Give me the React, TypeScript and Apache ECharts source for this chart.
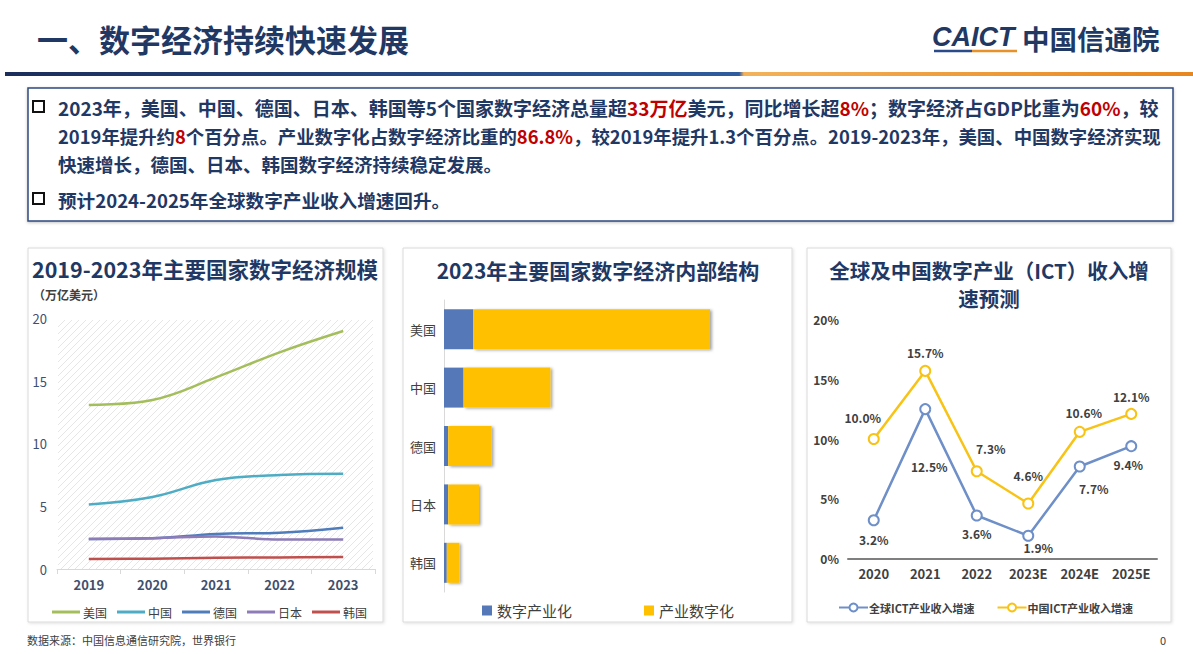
import React, { useEffect, useRef } from "react";
import * as echarts from "echarts";

// ---------- data ----------
const years = ["2019", "2020", "2021", "2022", "2023"];
const usScale = [13.1, 13.5, 15.3, 17.3, 19.0];
const cnScale = [5.15, 5.75, 7.1, 7.5, 7.6];
const deScale = [2.4, 2.45, 2.8, 2.9, 3.3];
const jpScale = [2.4, 2.45, 2.6, 2.35, 2.35];
const krScale = [0.8, 0.82, 0.9, 0.92, 0.95];
const scaleNames = ["美国", "中国", "德国", "日本", "韩国"];

const countries = ["美国", "中国", "德国", "日本", "韩国"];
const digitalIndustry = [2.1, 1.4, 0.3, 0.3, 0.2];
const industryDigital = [16.9, 6.2, 3.1, 2.2, 0.9];

const ictYears = ["2020", "2021", "2022", "2023E", "2024E", "2025E"];
const globalIct = [3.2, 12.5, 3.6, 1.9, 7.7, 9.4];
const chinaIct = [10.0, 15.7, 7.3, 4.6, 10.6, 12.1];

// label nudges (layout only)
const chinaLabelOffset = [[-11, -5], [0, -1], [14, -6], [0, -11], [4, -2], [0, 0]];
const globalLabelOffset = [[0, 2], [4, 40], [0, 1], [10, -5], [14, 5], [-3, 1]];

const FONT = '"Noto Sans CJK SC", "Noto Sans", sans-serif';
const NAVY = "#1F3864";

function hatch(x0: number, y0: number, x1: number, y1: number, step: number) {
  const out: any[] = [];
  for (let c = x0 + y0 + step; c < x1 + y1; c += step) {
    const ya = Math.min(y1, c - x0);
    const xa = c - ya;
    const yb = Math.max(y0, c - x1);
    const xb = c - yb;
    out.push({
      type: "line",
      silent: true,
      z: 0,
      shape: { x1: xa, y1: ya, x2: xb, y2: yb },
      style: { stroke: "#E6E6E6", lineWidth: 1 },
    });
  }
  return out;
}

function txt(x: number, y: number, text: string, fontSize: number, extra: any = {}) {
  return {
    type: "text",
    x,
    y,
    z: 10,
    style: {
      text,
      fontSize,
      fontFamily: FONT,
      fontWeight: "bold",
      fill: NAVY,
      verticalAlign: "middle",
      ...extra,
    },
  };
}

const redStyle = (fs: number) => ({ fill: "#C00000", fontSize: fs, fontWeight: "bold", fontFamily: FONT });

const panel = (x: number, y: number, w: number, h: number) => ({
  type: "rect",
  z: 0,
  shape: { x, y, width: w, height: h },
  style: {
    fill: "#fff",
    stroke: "#DADADA",
    lineWidth: 1,
    shadowBlur: 3,
    shadowColor: "rgba(0,0,0,0.12)",
    shadowOffsetX: 1,
    shadowOffsetY: 1,
  },
});

const scaleColors = ["#A5BE5C", "#4EADC4", "#4F7CBB", "#8E7CB8", "#C0504D"];
const scaleData = [usScale, cnScale, deScale, jpScale, krScale];

const option: any = {
  animation: false,
  backgroundColor: "#fff",
  textStyle: { fontFamily: FONT },
  graphic: [
    panel(28, 248, 355, 374),
    panel(403, 248, 389, 374),
    panel(807, 248, 364, 374),
    ...hatch(58, 320, 373, 569, 7),
    txt(37, 38, "一、数字经济持续快速发展", 31),
    txt(932, 37, "CAICT", 27, { fontStyle: "italic", fontFamily: '"Liberation Sans", Arial, sans-serif' }),
    { type: "line", z: 10, shape: { x1: 934, y1: 51, x2: 972, y2: 51 }, style: { stroke: "#2A4A8A", lineWidth: 2.5 } },
    { type: "line", z: 10, shape: { x1: 972, y1: 51, x2: 1017, y2: 51 }, style: { stroke: "#E8912B", lineWidth: 2.5 } },
    txt(1022, 38, "中国信通院", 27.5),
    {
      type: "rect",
      z: 10,
      shape: { x: 5, y: 72, width: 1188, height: 4 },
      style: {
        fill: new echarts.graphic.LinearGradient(0, 0, 1, 0, [
          { offset: 0, color: "#1B2E5C" },
          { offset: 0.618, color: "#2E5C9E" },
          { offset: 0.622, color: "#F3B25A" },
          { offset: 1, color: "#E8861E" },
        ]),
      },
    },
    {
      type: "rect",
      z: 1,
      shape: { x: 28, y: 88, width: 1145, height: 133 },
      style: { fill: "#fff", stroke: "#2F4A80", lineWidth: 1.5, shadowBlur: 3, shadowColor: "rgba(0,0,0,0.25)", shadowOffsetY: 1 },
    },
    { type: "rect", z: 10, shape: { x: 33, y: 101, width: 11, height: 11 }, style: { fill: "none", stroke: "#111", lineWidth: 2 } },
    { type: "rect", z: 10, shape: { x: 33, y: 193, width: 11, height: 11 }, style: { fill: "none", stroke: "#111", lineWidth: 2 } },
    txt(58, 107, "2023年，美国、中国、德国、日本、韩国等5个国家数字经济总量超{r|33万亿}美元，同比增长超{r|8%}；数字经济占GDP比重为{r|60%}，较", 19, { rich: { r: redStyle(19) } }),
    txt(58, 136, "2019年提升约{r|8}个百分点。产业数字化占数字经济比重的{r|86.8%}，较2019年提升1.3个百分点。2019-2023年，美国、中国数字经济实现", 18.4, { rich: { r: redStyle(18.4) } }),
    txt(58, 164, "快速增长，德国、日本、韩国数字经济持续稳定发展。", 18.5),
    txt(58, 199, "预计2024-2025年全球数字产业收入增速回升。", 18.6),
    txt(32, 268, "2019-2023年主要国家数字经济规模", 21.5),
    txt(33, 294, "（万亿美元）", 12, { fill: "#404040" }),
    txt(598, 270, "2023年主要国家数字经济内部结构", 21, { textAlign: "center" }),
    txt(989, 270, "全球及中国数字产业（ICT）收入增", 20.5, { textAlign: "center" }),
    txt(989, 298, "速预测", 20.5, { textAlign: "center" }),
    txt(27, 640, "数据来源：中国信息通信研究院，世界银行", 11, { fontWeight: "normal", fill: "#404040" }),
    txt(1160, 640, "0", 11, { fontWeight: "normal", fill: "#404040" }),
  ],
  grid: [
    { left: 57, top: 318.5, width: 318, height: 250.5 },
    { left: 444, top: 300, width: 336, height: 292 },
    { left: 848, top: 319.5, width: 309, height: 239 },
  ],
  xAxis: [
    {
      gridIndex: 0,
      type: "category",
      data: years,
      boundaryGap: true,
      axisLine: { lineStyle: { color: "#D9D9D9" } },
      axisTick: { show: true, length: 5, lineStyle: { color: "#D9D9D9" } },
      axisLabel: { color: "#3F4F6E", fontSize: 13, fontWeight: "bold", margin: 9 },
    },
    {
      gridIndex: 1,
      type: "value",
      min: 0,
      max: 24,
      show: false,
      splitLine: { show: false },
    },
    {
      gridIndex: 2,
      type: "category",
      data: ictYears,
      boundaryGap: true,
      axisLine: { lineStyle: { color: "#7F7F7F", width: 2 } },
      axisTick: { show: false },
      axisLabel: { color: "#404040", fontSize: 13, fontWeight: "bold", margin: 8 },
    },
  ],
  yAxis: [
    {
      gridIndex: 0,
      type: "value",
      min: 0,
      max: 20,
      interval: 5,
      axisLine: { show: false },
      axisTick: { show: false },
      splitLine: { show: false },
      axisLabel: { color: "#3F4F6E", fontSize: 13, margin: 10 },
    },
    {
      gridIndex: 1,
      type: "category",
      data: countries,
      inverse: true,
      axisLine: { show: true, lineStyle: { color: "#D9D9D9" } },
      axisTick: { show: false },
      axisLabel: { color: "#404040", fontSize: 13, margin: 8 },
    },
    {
      gridIndex: 2,
      type: "value",
      min: 0,
      max: 20,
      interval: 5,
      axisLine: { show: false },
      axisTick: { show: false },
      splitLine: { show: false },
      axisLabel: { color: "#404040", fontSize: 12, fontWeight: "bold", margin: 9, formatter: "{value}%" },
    },
  ],
  legend: [
    {
      left: 47,
      top: 601,
      icon: "rect",
      itemWidth: 28,
      itemHeight: 3,
      itemGap: 10,
      data: scaleNames,
      textStyle: { color: "#404040", fontSize: 12, padding: [0, 0, 0, -2] },
    },
    {
      left: 477,
      top: 598,
      icon: "rect",
      itemWidth: 10,
      itemHeight: 10,
      itemGap: 72,
      data: ["数字产业化", "产业数字化"],
      textStyle: { color: "#404040", fontSize: 15 },
    },
    {
      left: 833,
      top: 597,
      itemWidth: 29,
      itemHeight: 10,
      itemGap: 22,
      data: ["全球ICT产业收入增速", "中国ICT产业收入增速"],
      textStyle: { color: "#404040", fontSize: 11, fontWeight: "bold", padding: [0, 0, 0, -4] },
    },
  ],
  series: [
    ...scaleNames.map((name, i) => ({
      name,
      type: "line",
      xAxisIndex: 0,
      yAxisIndex: 0,
      data: scaleData[i],
      smooth: 0.4,
      symbol: "none",
      z: 3,
      lineStyle: { width: 2.5, color: scaleColors[i] },
      itemStyle: { color: scaleColors[i] },
    })),
    {
      name: "数字产业化",
      type: "bar",
      xAxisIndex: 1,
      yAxisIndex: 1,
      stack: "s",
      barWidth: 40,
      data: digitalIndustry,
      itemStyle: { color: "#5578B8" },
    },
    {
      name: "产业数字化",
      type: "bar",
      xAxisIndex: 1,
      yAxisIndex: 1,
      stack: "s",
      barWidth: 40,
      data: industryDigital,
      itemStyle: {
        color: "#FFC000",
        shadowColor: "rgba(0,0,0,0.35)",
        shadowBlur: 3,
        shadowOffsetX: 2,
        shadowOffsetY: 1,
      },
    },
    {
      name: "全球ICT产业收入增速",
      type: "line",
      xAxisIndex: 2,
      yAxisIndex: 2,
      data: globalIct.map((v, i) => ({
        value: v,
        label: { offset: globalLabelOffset[i] },
      })),
      symbol: "emptyCircle",
      symbolSize: 10,
      lineStyle: { width: 2.5, color: "#6E8FC8" },
      itemStyle: { color: "#6E8FC8", borderWidth: 2 },
      label: {
        show: true,
        position: "bottom",
        distance: 5,
        formatter: (p: any) => p.value.toFixed(1) + "%",
        color: "#404040",
        fontSize: 12,
        fontWeight: "bold",
      },
    },
    {
      name: "中国ICT产业收入增速",
      type: "line",
      xAxisIndex: 2,
      yAxisIndex: 2,
      data: chinaIct.map((v, i) => ({
        value: v,
        label: { offset: chinaLabelOffset[i] },
      })),
      symbol: "emptyCircle",
      symbolSize: 10,
      lineStyle: { width: 2.5, color: "#F8C315" },
      itemStyle: { color: "#F8C315", borderWidth: 2 },
      label: {
        show: true,
        position: "top",
        distance: 5,
        formatter: (p: any) => p.value.toFixed(1) + "%",
        color: "#404040",
        fontSize: 12,
        fontWeight: "bold",
      },
    },
  ],
};

export default function App() {
  const ref = useRef<HTMLDivElement>(null);
  useEffect(() => {
    const chart = echarts.init(ref.current!, null, { renderer: "svg" });
    chart.setOption(option);
    return () => chart.dispose();
  }, []);
  return (
    <div
      ref={ref}
      style={{ position: "absolute", left: 0, top: 0, width: 1193, height: 654, background: "#fff" }}
    />
  );
}
